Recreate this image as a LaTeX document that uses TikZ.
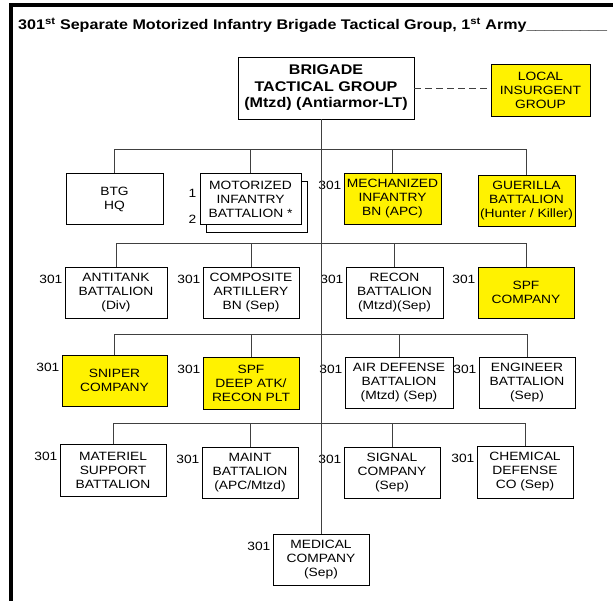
\documentclass[tikz,border=0pt]{standalone}
\usepackage{fontspec}
\setmainfont{Liberation Sans}[FakeStretch=1.15]
\usetikzlibrary{calc}

\newcommand{\boxfont}{\fontsize{12}{14}\selectfont}
\newcommand{\hqfont}{\fontsize{14}{16.5}\selectfont\bfseries}
\newcommand{\ttlfont}{\fontsize{14}{16}\selectfont\bfseries}

\begin{document}
\begin{tikzpicture}[
x=1pt, y=-1pt,
box/.style={draw, rectangle, line width=0.8pt, fill=white, minimum width=96pt,
              minimum height=51pt, inner sep=1pt, align=center, font=\boxfont},
ybox/.style={box, fill=yellow},
num/.style={anchor=east, inner sep=1pt, font=\boxfont},
lnk/.style={draw=black!75, line width=0.8pt},
frm/.style={line width=4pt},
]
\useasboundingbox (0,0) rectangle (613,601);
% frame and title
\draw[frm] (11,601) -- (11,5) -- (613,5);
\node[anchor=base west, inner sep=0pt, font=\ttlfont] (ttl) at (18,30)
  {301\textsuperscript{st} Separate Motorized Infantry Brigade Tactical Group, 1\textsuperscript{st} Army\_\_\_\_\_\_\_\_\_};

% top level
\node[box, minimum width=176pt, minimum height=62pt, font=\hqfont] (brig) at (326,88)
  {BRIGADE\\TACTICAL GROUP\\(Mtzd) (Antiarmor-LT)};
\node[ybox, minimum width=99pt, minimum height=52pt] (loc) at (540.5,90)
  {LOCAL\\INSURGENT\\GROUP};
\draw[lnk, dash pattern=on 7pt off 4pt] (brig.east) -- (brig.east -| loc.west);

% row 1
\node[box, minimum width=97pt] (btg) at (114.5,199) {BTG\\HQ};
\node[box, minimum width=101pt] (motb) at (256.5,207) {};
\node[box, minimum width=101pt] (mot) at (250.5,199) {MOTORIZED\\INFANTRY\\BATTALION *};
\node[ybox, minimum width=97pt] (mech) at (392.5,198.5) {MECHANIZED\\INFANTRY\\BN (APC)};
\node[ybox, minimum width=97pt] (guer) at (526.5,200.5) {GUERILLA\\BATTALION\\(Hunter / Killer)};

% row 2
\node[box, minimum width=102pt] (atk) at (116,292.5) {ANTITANK\\BATTALION\\(Div)};
\node[box] (comp) at (251,292.5) {COMPOSITE\\ARTILLERY\\BN (Sep)};
\node[box, minimum width=97pt] (rec) at (394.5,292.5) {RECON\\BATTALION\\(Mtzd)(Sep)};
\node[ybox] (spfco) at (526,292.5) {SPF\\COMPANY};

% row 3
\node[ybox, minimum width=105pt] (snip) at (114.5,380.5) {SNIPER\\COMPANY};
\node[ybox, minimum height=52pt] (spfd) at (251,383) {SPF\\DEEP ATK/\\RECON PLT};
\node[box, minimum width=108pt] (ad) at (399,382.5) {AIR DEFENSE\\BATTALION\\(Mtzd) (Sep)};
\node[box] (eng) at (527,382.5) {ENGINEER\\BATTALION\\(Sep)};

% row 4
\node[box, minimum width=106pt, minimum height=52pt] (mat) at (113,470) {MATERIEL\\SUPPORT\\BATTALION};
\node[box] (mnt) at (250,472.5) {MAINT\\BATTALION\\(APC/Mtzd)};
\node[box] (sig) at (392,472.5) {SIGNAL\\COMPANY\\(Sep)};
\node[box, minimum height=52pt] (chem) at (525,472) {CHEMICAL\\DEFENSE\\CO (Sep)};

% bottom
\node[box] (med) at (321,559.5) {MEDICAL\\COMPANY\\(Sep)};

% unit numbers
\node[num] at ([xshift=-2pt, yshift=-20pt]mot.north west) {1};
\node[num] at ([xshift=-2pt, yshift=6pt]mot.south west) {2};
\foreach \u in {mech,atk,comp,rec,spfco,snip,spfd,ad,eng,mat,mnt,sig,chem,med}
  \node[num] at ([xshift=-1pt, yshift=-13pt]\u.north west) {301};

% bus lines
\coordinate (b1) at (0,149);
\coordinate (b2) at (0,243.5);
\coordinate (b3) at (0,334);
\coordinate (b4) at (0,423);
\draw[lnk] (brig.south -| med.north) -- (med.north);
\draw[lnk] (btg.north) -- (btg.north |- b1) -- (guer.north |- b1) -- (guer.north);
\draw[lnk] (mot.north) -- (mot.north |- b1);
\draw[lnk] (mech.north) -- (mech.north |- b1);
\draw[lnk] (atk.north) -- (atk.north |- b2) -- (spfco.north |- b2) -- (spfco.north);
\draw[lnk] (comp.north) -- (comp.north |- b2);
\draw[lnk] (rec.north) -- (rec.north |- b2);
\draw[lnk] (snip.north) -- (snip.north |- b3) -- (eng.north |- b3) -- (eng.north);
\draw[lnk] (spfd.north) -- (spfd.north |- b3);
\draw[lnk] (ad.north) -- (ad.north |- b3);
\draw[lnk] (mat.north) -- (mat.north |- b4) -- (chem.north |- b4) -- (chem.north);
\draw[lnk] (mnt.north) -- (mnt.north |- b4);
\draw[lnk] (sig.north) -- (sig.north |- b4);
\end{tikzpicture}
\end{document}
